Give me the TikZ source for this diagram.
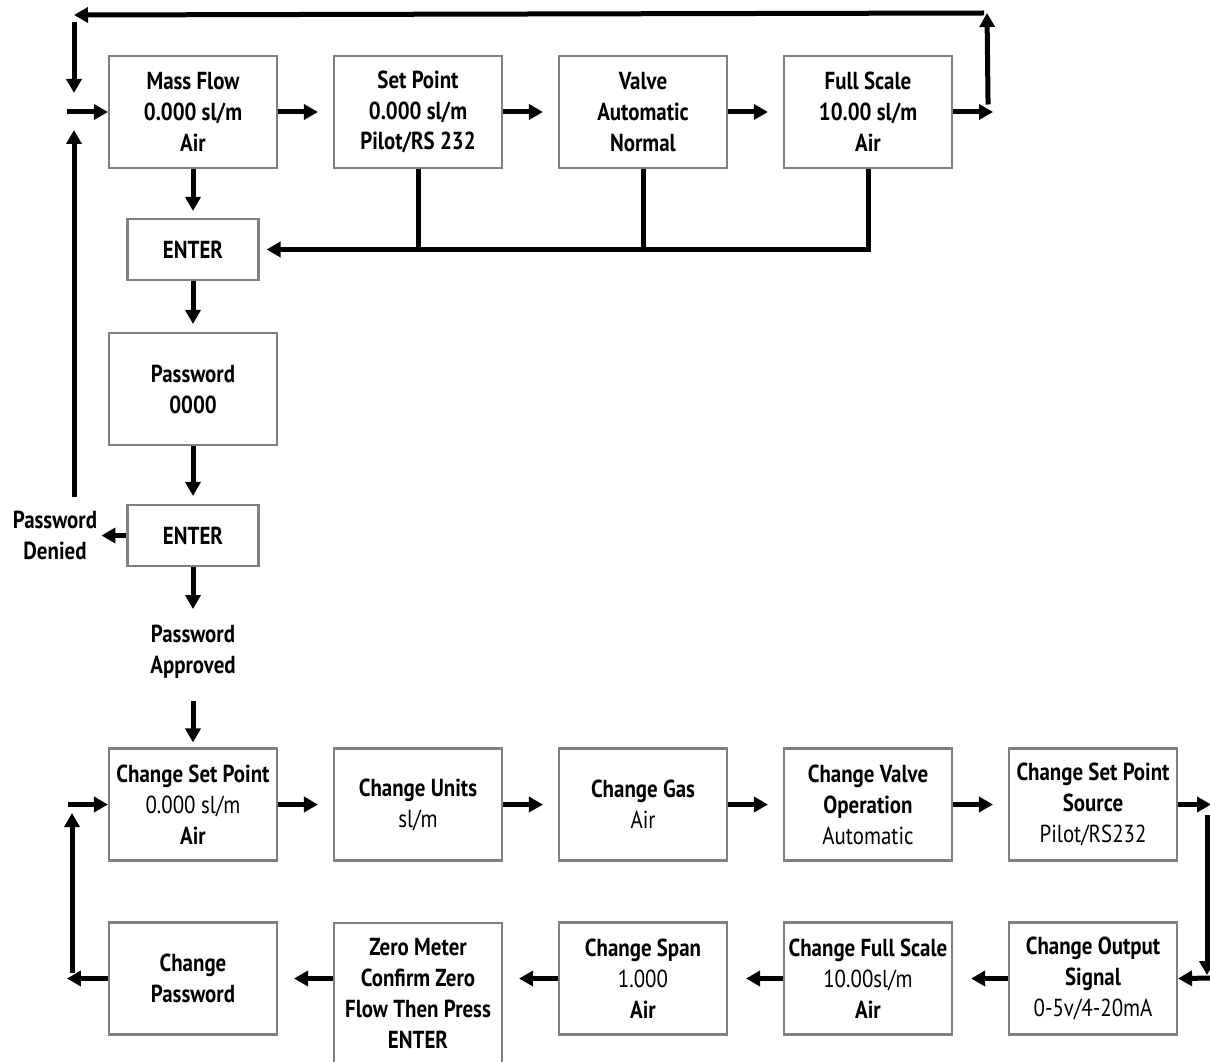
\documentclass[tikz,border=0pt]{standalone}
\usepackage{fontspec}
\setmainfont{PT Sans}[FakeStretch=0.85]
\usetikzlibrary{arrows.meta}

\begin{document}
\begin{tikzpicture}[->,>={Triangle[length=0.28cm,width=0.3cm]},line width=0.1cm,
  node distance=4.5cm,
  main node/.style={rectangle,draw=gray,line width=1.2pt,minimum width=3.36cm,
    minimum height=2.24cm,align=center,inner sep=1pt,
    font=\fontsize{14}{17.6}\selectfont\bfseries},
  enter node/.style={main node,minimum width=2.62cm,minimum height=1.22cm},
  text node/.style={align=center,inner sep=1pt,
    font=\fontsize{14}{17.6}\selectfont\bfseries}]

  \useasboundingbox (0,0) rectangle (24.2,-21.22);

  % display loop
  \node[main node] (1) at (3.86,-2.24) {Mass Flow\\0.000 sl/m\\Air};
  \node[main node] (2) [right of=1] {Set Point\\0.000 sl/m\\Pilot/RS 232};
  \node[main node] (3) [right of=2] {Valve\\Automatic\\Normal};
  \node[main node] (4) [right of=3] {Full Scale\\10.00 sl/m\\Air};

  % password
  \node[enter node] (5) at (3.86,-4.99) {ENTER};
  \node[main node] (6) at (3.86,-7.78) {Password\\0000};
  \node[enter node] (7) at (3.86,-10.71) {ENTER};
  \node[text node] (8) at (3.86,-13.03) {Password\\Approved};
  \node[text node] (9) at (1.1,-10.7) {Password\\Denied};

  % setup loop
  \node[main node] (10) at (3.86,-16.09) {Change Set Point\\{\mdseries 0.000 sl/m}\\Air};
  \node[main node] (11) [right of=10] {Change Units\\{\mdseries sl/m}};
  \node[main node] (12) [right of=11] {Change Gas\\{\mdseries Air}};
  \node[main node] (13) [right of=12] {Change Valve\\Operation\\{\mdseries Automatic}};
  \node[main node] (14) [right of=13] {Change Set Point\\Source\\{\mdseries Pilot/RS232}};
  \node[main node] (15) [below of=14, node distance=3.48cm] {Change Output\\Signal\\{\mdseries 0-5v/4-20mA}};
  \node[main node] (16) [left of=15] {Change Full Scale\\{\mdseries 10.00sl/m}\\Air};
  \node[main node] (17) [left of=16] {Change Span\\{\mdseries 1.000}\\Air};
  \node[main node,anchor=north,minimum height=2.8cm] (18) at (8.36,-18.44)
    {Zero Meter\\Confirm Zero\\Flow Then Press\\ENTER};
  \node[main node] (19) [below of=10, node distance=3.48cm] {Change\\Password};

  \coordinate (tl) at (1.48,-0.3);
  \coordinate (tr) at (19.74,-0.26);
  \coordinate (pd) at (1.48,-9.94);
  \coordinate (cp) at (1.44,-19.46);
  \coordinate (rt) at (24.14,-16.3);

  \foreach \a/\b in {1/2,2/3,3/4,10/11,11/12,12/13,13/14}
    \draw (\a.east) -- ([xshift=-0.3cm]\b.west);
  \draw (15.west) -- ([xshift=0.36cm]16.east);
  \draw (16.west) -- ([xshift=0.36cm]17.east);
  \draw (17.west) -- ([xshift=0.32cm]17.west -| 18.east);
  \draw (18.west |- 19.east) -- ([xshift=0.32cm]19.east);

  \draw (1.south) -- ([yshift=0.14cm]5.north);
  \draw (5.south) -- ([yshift=0.16cm]6.north);
  \draw (6.south) -- ([yshift=0.16cm]7.north);
  \draw (7.south) -- ++(0,-0.84);
  \draw ([yshift=0.92cm]10.north) -- ([yshift=0.1cm]10.north);
  \draw (7.west) -- ++(-0.5,0);

  % back to the start
  \draw (4.east) -- ++(0.8,0);
  \draw ([xshift=0.7cm,yshift=0.15cm]4.east) -- (tr);
  \draw ([xshift=-0.06cm]tr) -- (tl);
  \draw ([yshift=-0.14cm]tl) -- ++(0,-1.42);
  \draw ([xshift=-0.82cm]1.west) -- (1.west);
  \draw (pd) -- (1.48,-2.6);

  \draw (4.south) |- ([xshift=0.14cm]5.east);
  \draw[-] (2.south) -- (2.south |- 5.east);
  \draw[-] (3.south) -- (3.south |- 5.east);

  \draw (14.east) -- ++(0.66,0);
  \draw (rt) -- (24.14,-19.5);
  \draw (24.3,-19.56) -- (15.east);
  \draw (19.west) -- ++(-0.82,0);
  \draw (cp) -- (1.44,-16.26);
  \draw ([xshift=-0.8cm]10.west) -- (10.west);
\end{tikzpicture}
\end{document}
